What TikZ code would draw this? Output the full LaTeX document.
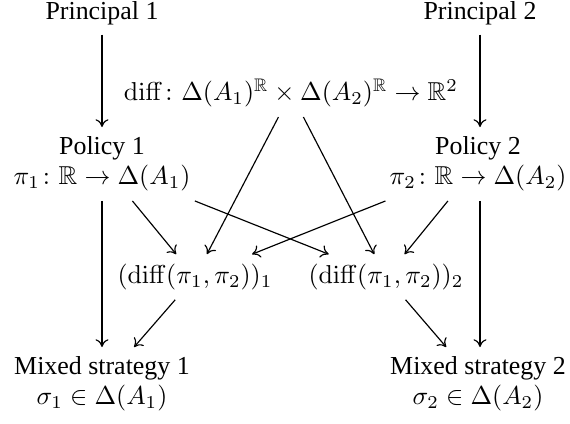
\documentclass[tikz,border=0pt]{standalone}
\usepackage{amsmath,amssymb}
\usepackage[no-math]{fontspec}
\setmainfont{Liberation Serif}
\usetikzlibrary{arrows.meta}
\tikzset{
  lbl/.style={inner xsep=3pt, inner ysep=3.6pt, align=center, font=\fontsize{10}{11.5}\selectfont},
  arr/.style={-{Computer Modern Rightarrow[length=3pt,width=5pt]}, line width=0.45pt}
}
\begin{document}
\begin{tikzpicture}[x=0.386pt, y=-0.386pt]
\useasboundingbox (0,0) rectangle (570,423);
\node[lbl] (p1) at (102,13) {Principal 1};
\node[lbl] (p2) at (480,13) {Principal 2};
\node[lbl] (pol1) at (102,164) {Policy 1\\ $\pi_1\colon \mathbb{R}\to\Delta(A_1)$};
\node[lbl] (pol2) at (478,164) {Policy 2\\ $\pi_2\colon \mathbb{R}\to\Delta(A_2)$};
\node[lbl] (d) at (291,93) {$\mathrm{diff}\colon \Delta(A_1)^{\mathbb{R}}\times\Delta(A_2)^{\mathbb{R}}\to\mathbb{R}^2$};
\node[lbl] (d1) at (195,277) {$(\mathrm{diff}(\pi_1,\pi_2))_1$};
\node[lbl] (d2) at (386,277) {$(\mathrm{diff}(\pi_1,\pi_2))_2$};
\node[lbl] (m1) at (102,384) {Mixed strategy 1\\ $\sigma_1\in\Delta(A_1)$};
\node[lbl] (m2) at (478,384) {Mixed strategy 2\\ $\sigma_2\in\Delta(A_2)$};
\draw[arr] (p1) -- (pol1);
\draw[arr] (p2) -- (p2 |- pol2.north);
\draw[arr] (pol1) -- (m1);
\draw[arr] (p2 |- pol2.south) -- (p2 |- m2.north);
\draw[arr] (pol1) -- (d1);
\draw[arr] (pol1) -- (d2);
\draw[arr] (d) -- (d1);
\draw[arr] (d) -- (d2);
\draw[arr] (pol2) -- (d1);
\draw[arr] (pol2) -- (d2);
\draw[arr] (d1) -- (m1);
\draw[arr] (d2) -- (m2);
\end{tikzpicture}
\end{document}
